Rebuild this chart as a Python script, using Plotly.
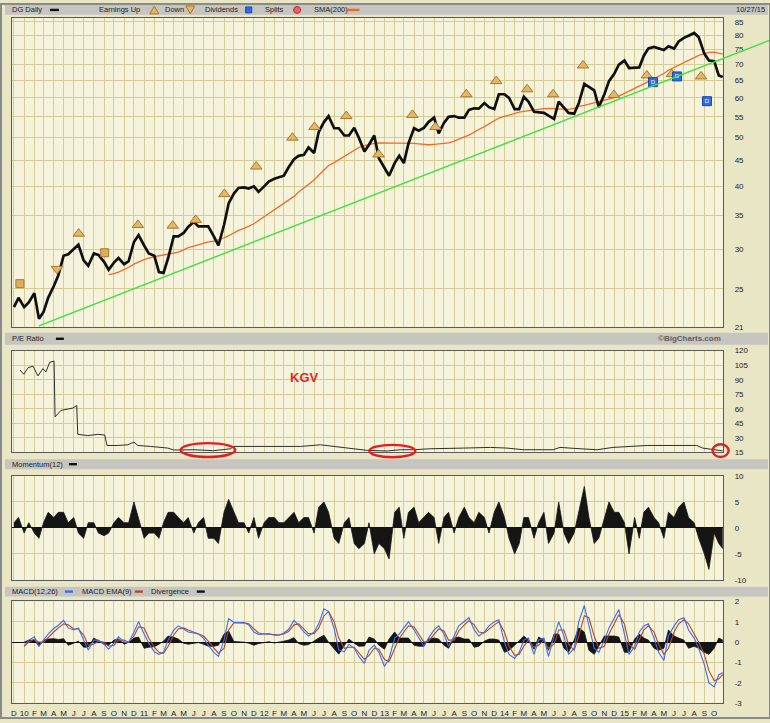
import math
import pandas as pd
import plotly.graph_objects as go

# ------------------------------------------------------------------ data
dates = list(pd.date_range('2009-12-01', '2015-10-15', freq='SMS')) + [pd.Timestamp('2015-10-27')]

price = [23.0, 24.0, 23.0, 23.5, 24.5, 21.8, 22.5, 24.0, 25.3, 26.6,
         29.1, 29.3, 30.0, 30.6, 28.5, 27.8, 29.4, 29.2, 28.3, 27.3,
         28.2, 28.8, 28.0, 28.4, 31.0, 32.0, 30.5, 29.4, 29.1, 27.0,
         26.9, 28.8, 31.8, 31.8, 32.3, 33.2, 34.0, 33.3, 33.3, 33.3,
         31.8, 30.5, 33.5, 37.0, 38.7, 39.7, 39.8, 39.6, 40.0, 39.0,
         40.0, 40.9, 41.4, 41.7, 42.0, 43.6, 45.3, 46.0, 46.2, 47.8,
         46.6, 51.3, 53.7, 55.2, 52.2, 52.2, 50.5, 50.5, 52.3, 50.0,
         46.9, 48.4, 50.5, 45.5, 43.4, 42.0, 44.5, 46.0, 44.5, 48.7,
         52.2, 51.6, 52.3, 53.7, 54.8, 51.0, 53.5, 55.0, 55.2, 54.8,
         54.8, 56.8, 57.2, 57.1, 58.6, 57.5, 57.0, 61.0, 61.0, 60.0,
         57.0, 57.0, 60.3, 59.0, 56.3, 56.2, 56.0, 55.3, 54.5, 59.0,
         57.3, 56.0, 55.8, 58.5, 64.0, 63.1, 62.1, 57.5, 61.0, 64.8,
         67.0, 69.9, 71.2, 68.8, 68.9, 69.0, 72.8, 75.3, 75.8, 75.4,
         74.7, 76.0, 75.2, 77.7, 79.0, 79.8, 80.8, 79.2, 73.5, 71.2,
         71.0, 66.5, 66.0]

sma200 = [None] * 19 + [26.7,
          26.8, 27.0, 27.3, 27.6, 28.0, 28.3, 28.6, 28.8, 29.0, 29.1,
          29.2, 29.3, 29.4, 29.6, 29.9, 30.2, 30.4, 30.6, 30.8, 31.0,
          31.1, 31.3, 31.6, 31.9, 32.3, 32.7, 33.0, 33.3, 33.7, 34.2,
          34.8, 35.3, 35.9, 36.4, 37.0, 37.5, 38.2, 39.0, 39.7, 40.4,
          41.2, 42.1, 43.0, 44.0, 44.6, 45.2, 45.9, 46.6, 47.3, 47.8,
          48.2, 48.5, 48.7, 48.8, 48.8, 48.8, 48.8, 48.8, 48.8, 48.8,
          48.7, 48.6, 48.5, 48.4, 48.5, 48.6, 48.7, 48.8, 49.2, 49.7,
          50.2, 50.6, 51.2, 51.9, 52.6, 53.3, 54.0, 54.7, 55.1, 55.5,
          55.9, 56.2, 56.4, 56.6, 56.8, 57.0, 57.1, 57.2, 57.1, 57.0,
          56.9, 56.9, 57.2, 57.7, 58.0, 58.3, 58.6, 58.9, 59.3, 59.7,
          60.1, 60.5, 61.2, 61.9, 62.6, 63.3, 64.0, 64.7, 65.5, 66.3,
          67.1, 68.1, 69.0, 69.8, 70.6, 71.4, 72.2, 72.9, 73.5, 73.9,
          74.0, 73.6, 73.3]

momentum = [1, 2, -1, 1, -1, -2, 1, 3, 2, 3,
            3, 1, 2, -1, -2, 1, 1, -1, -1.5, -1,
            1, 2, 1, 1, 5, 2, -2, -1, -1, -2,
            1, 3, 3, 2, 1, 2, -1, 1, 2, -2,
            -2, -3, 3, 5.5, 3, 1, 1, -1, 2, -2,
            1, 2, 2, 1, 1, 2, 3, 1, 2, 2,
            -1, 4, 5, 3, -2, -3, 1, 2, -3, -4,
            -3, 1, -5, -3, -4, -6, 3, 4, -2, 3,
            4, 1, 2, 3, 2, -3, 2, 3, -1, 2,
            4, 2, 1, 3, 2, -1, 3, 5, 2, -2,
            -5, -3, 2, 2, -2, 1, 3, -3, -1, 5,
            -1, -3, -1, 3, 8, 2, -3, -2, 2, 5,
            3, 3, 1, -5, 2, -2, 3, 4, 2, 1,
            -2, 3, 2, 4, 5, 2, 1, -2, -5, -8,
            -1, -3, -4]

macd = [None, None, -0.2, 0.1, 0.26, -0.2, 0.1, 0.4, 0.67, 0.83,
        1.07, 0.7, 0.6, 0.7, 0.1, -0.39, 0.1, 0.1, -0.1, -0.35,
        -0.05, 0.26, 0.0, 0.0, 0.5, 1.0, 0.4, -0.05, -0.47, -0.6,
        -0.5, 0.1, 0.59, 0.8, 0.65, 0.5, 0.45, 0.4, 0.2, -0.15,
        -0.5, -0.7, 0.1, 1.15, 0.98, 0.98, 0.95, 0.85, 0.5, 0.38,
        0.4, 0.42, 0.34, 0.34, 0.45, 0.62, 1.07, 0.83, 0.5, 0.3,
        0.5, 0.9, 1.64, 1.5, 0.67, -0.39, -0.47, -0.1, -0.3, -0.7,
        -1.04, -0.4, -0.15, -0.5, -1.2, -0.8, 0.2, 0.4, 0.7, 1.0,
        0.6, 0.2, -0.2, 0.2, 0.6, 0.8, 0.4, -0.2, 0.3, 0.8,
        1.0, 1.2, 0.6, 0.3, 0.5, 0.8, 1.0, 1.1, 0.0, -0.6,
        -0.8, -0.5, 0.1, 0.2, -0.6, 0.1, 0.2, -0.7, 0.3, 1.0,
        0.3, -0.6, -0.3, 1.0, 1.8, 0.8, -0.3, -0.5, 0.1, 0.7,
        1.2, 1.6, 0.4, -0.6, -0.2, 0.5, 0.8, 0.9, 0.2, -0.5,
        -0.9, 0.3, 0.8, 1.1, 1.2, 0.6, 0.2, -0.3, -1.1, -2.0,
        -2.2, -1.6, -1.5]

macd_ema9 = [None, None, -0.2, 0.0, 0.15, 0.0, 0.0, 0.25, 0.5, 0.7,
             0.9, 0.85, 0.65, 0.65, 0.35, -0.15, -0.1, 0.05, 0.0, -0.2,
             -0.15, 0.1, 0.1, 0.0, 0.3, 0.75, 0.7, 0.2, -0.25, -0.5,
             -0.55, -0.2, 0.35, 0.65, 0.7, 0.6, 0.5, 0.42, 0.3, 0.05,
             -0.3, -0.55, -0.3, 0.6, 0.95, 0.95, 0.95, 0.9, 0.65, 0.45,
             0.4, 0.4, 0.38, 0.35, 0.4, 0.52, 0.85, 0.9, 0.65, 0.42,
             0.42, 0.7, 1.3, 1.5, 1.0, 0.2, -0.3, -0.25, -0.25, -0.5,
             -0.85, -0.65, -0.3, -0.35, -0.85, -0.95, -0.3, 0.2, 0.5, 0.8,
             0.75, 0.4, 0.0, 0.05, 0.4, 0.65, 0.55, 0.1, 0.1, 0.55,
             0.85, 1.05, 0.85, 0.5, 0.45, 0.65, 0.85, 1.0, 0.5, -0.2,
             -0.65, -0.6, -0.2, 0.1, -0.25, -0.15, 0.1, -0.3, -0.1, 0.6,
             0.6, -0.1, -0.4, 0.3, 1.3, 1.2, 0.3, -0.3, -0.2, 0.4,
             0.9, 1.35, 0.9, -0.1, -0.35, 0.1, 0.6, 0.8, 0.5, -0.1,
             -0.6, -0.3, 0.5, 0.9, 1.1, 0.9, 0.4, 0.0, -0.6, -1.4,
             -1.9, -1.8, -1.6]

divergence = [None, None, 0.0, 0.1, 0.1, -0.2, 0.1, 0.15, 0.17, 0.13,
              0.17, -0.15, -0.05, 0.05, -0.25, -0.24, 0.2, 0.05, -0.1, -0.15,
              0.1, 0.16, -0.1, 0.0, 0.2, 0.25, -0.3, -0.25, -0.22, -0.1,
              0.05, 0.3, 0.24, 0.15, -0.05, -0.1, -0.05, -0.02, -0.1, -0.2,
              -0.2, -0.15, 0.4, 0.55, 0.03, 0.03, 0.0, -0.05, -0.15, -0.07,
              0.0, 0.02, -0.04, -0.01, 0.05, 0.1, 0.22, -0.07, -0.15, -0.12,
              0.08, 0.2, 0.34, 0.0, -0.33, -0.59, -0.17, 0.15, -0.05, -0.2,
              -0.19, 0.25, 0.15, -0.15, -0.35, 0.15, 0.5, 0.2, 0.2, 0.2,
              -0.15, -0.2, -0.2, 0.15, 0.2, 0.15, -0.15, -0.3, 0.2, 0.25,
              0.15, 0.15, -0.25, -0.2, 0.05, 0.15, 0.15, 0.1, -0.5, -0.4,
              -0.15, 0.1, 0.3, 0.1, -0.35, 0.25, 0.1, -0.4, 0.4, 0.4,
              -0.3, -0.5, 0.1, 0.7, 0.5, -0.4, -0.6, -0.2, 0.3, 0.3,
              0.3, 0.25, -0.5, -0.5, 0.15, 0.4, 0.2, 0.1, -0.3, -0.4,
              -0.3, 0.6, 0.3, 0.2, 0.1, -0.3, -0.2, -0.3, -0.5, -0.6,
              -0.3, 0.2, 0.1]

pe_dates = ['2009-12-19', '2009-12-31', '2010-01-13', '2010-01-28', '2010-02-12', '2010-02-27',
            '2010-03-08', '2010-03-20', '2010-04-02', '2010-04-05', '2010-04-23', '2010-05-14',
            '2010-05-29', '2010-06-10', '2010-06-13', '2010-07-14', '2010-08-13', '2010-09-03',
            '2010-09-10', '2010-10-13', '2010-11-12', '2010-12-01', '2010-12-13', '2011-01-21',
            '2011-03-14', '2011-04-01', '2011-06-01', '2011-07-31', '2011-09-21', '2011-09-30',
            '2012-01-11', '2012-04-21', '2012-06-20', '2012-07-30', '2012-09-20', '2012-11-10',
            '2013-01-10', '2013-02-18', '2013-03-30', '2013-05-20', '2013-08-29', '2013-11-19',
            '2014-01-09', '2014-02-27', '2014-05-29', '2014-06-19', '2014-08-19', '2014-10-10',
            '2014-11-27', '2015-01-18', '2015-03-11', '2015-06-19', '2015-08-09', '2015-08-27',
            '2015-09-27', '2015-10-18', '2015-10-27']
pe_values = [100.0, 95.6, 102.4, 104.0, 93.9, 101.4, 98.0, 108.1, 109.1, 51.6, 58.3, 60.0,
             60.7, 63.4, 33.6, 32.3, 33.6, 32.9, 22.1, 22.1, 22.8, 25.5, 22.1, 21.1,
             19.4, 17.4, 17.7, 16.7, 18.7, 21.1, 21.1, 21.1, 22.8, 21.1, 18.7, 17.0,
             16.4, 17.7, 17.7, 18.7, 19.4, 20.1, 19.4, 17.7, 17.7, 20.1, 18.7, 17.7,
             20.1, 21.1, 22.1, 22.1, 22.1, 19.4, 17.7, 16.7, 16.5]

earn_up_dates = ['2010-06-16', '2010-12-13', '2011-03-29', '2011-06-07', '2011-09-02', '2011-12-08',
                 '2012-03-27', '2012-06-02', '2012-09-07', '2012-12-14', '2013-03-27', '2013-06-05',
                 '2013-09-07', '2013-12-07', '2014-03-11', '2014-05-29', '2014-08-28', '2014-11-30',
                 '2015-03-10', '2015-05-25', '2015-08-22']
earn_up_values = [32.2, 33.5, 33.4, 34.3, 38.6, 43.8, 50.0, 52.5, 55.2, 46.3, 55.5, 52.5,
                  61.0, 64.8, 62.4, 61.0, 69.6, 60.8, 66.5, 66.9, 66.2]
earn_down_dates = ['2010-04-11']
earn_down_values = [27.4]
earn_flat_dates = ['2009-12-19', '2010-09-03']
earn_flat_values = [25.6, 29.5]
div_dates = ['2015-03-29', '2015-06-10', '2015-09-09']
div_values = [64.5, 66.2, 59.1]

price_ticks = [21, 25, 30, 35, 40, 45, 50, 55, 60, 65, 70, 75, 80, 85]
pe_ticks = [15, 30, 45, 60, 75, 90, 105, 120]
mom_ticks = [-10, -5, 0, 5, 10]
macd_ticks = [-3, -2, -1, 0, 1, 2]

trend_points = [('2010-02-15', 21.1), ('2015-10-21', 71.6)]
pe_circles = [('2011-04-22', '2011-10-05', 10.2, 24.5),
              ('2012-11-16', '2013-04-05', 10.0, 22.7),
              ('2015-09-26', '2015-11-14', 10.2, 23.4)]
kgv_label = ('2012-05-03', 92.6)

# ------------------------------------------------------------------ layout constants
W, H = 770, 723
X0, X1 = pd.Timestamp('2009-11-25'), pd.Timestamp('2015-10-28')
PRICE_RANGE = (21, 86.4)
PE_RANGE = (15, 120)
PLOT_L, PLOT_R = 11, 723

BG_PAPER = '#E9E6C6'
BG_PLOT = '#F5F3DC'
GRID = '#D4CD98'
FRAME = '#5A5A5A'
FONT = 'Liberation Sans'


def py(p):
    return 1 - p / H


def pxx(p):
    return p / W


XD = [PLOT_L / W, PLOT_R / W]
dom_price = [py(327), py(14.5)]
dom_pe = [py(454), py(351)]
dom_mom = [py(583), py(478)]
dom_macd = [py(708), py(605)]

month_starts = pd.date_range('2009-12-01', '2015-10-01', freq='MS')
letters = {2: 'F', 3: 'M', 4: 'A', 5: 'M', 6: 'J', 7: 'J', 8: 'A', 9: 'S', 10: 'O', 11: 'N', 12: 'D'}
month_text = [f"{d.year % 100:02d}" if d.month == 1 else letters[d.month] for d in month_starts]


def fx(d):
    return (pd.Timestamp(d) - X0) / (X1 - X0)


def fy_log(v):
    lo, hi = math.log10(PRICE_RANGE[0]), math.log10(PRICE_RANGE[1])
    return (math.log10(v) - lo) / (hi - lo)


def fy_pe(v):
    return (v - PE_RANGE[0]) / (PE_RANGE[1] - PE_RANGE[0])


fig = go.Figure()

# price panel
fig.add_trace(go.Scatter(x=dates, y=sma200, mode='lines', line=dict(color='#F06A28', width=1.3),
                         xaxis='x', yaxis='y', connectgaps=False))
fig.add_trace(go.Scatter(x=dates, y=price, mode='lines', line=dict(color='#101010', width=2.7),
                         xaxis='x', yaxis='y'))
fig.add_trace(go.Scatter(x=earn_up_dates, y=earn_up_values, mode='markers', xaxis='x', yaxis='y',
                         marker=dict(symbol='triangle-up', size=10, color='#E4B66A',
                                     line=dict(color='#A8772A', width=1))))
fig.add_trace(go.Scatter(x=earn_down_dates, y=earn_down_values, mode='markers', xaxis='x', yaxis='y',
                         marker=dict(symbol='triangle-down', size=10, color='#E4B66A',
                                     line=dict(color='#A8772A', width=1))))
fig.add_trace(go.Scatter(x=earn_flat_dates, y=earn_flat_values, mode='markers', xaxis='x', yaxis='y',
                         marker=dict(symbol='square', size=8, color='#DDAE62',
                                     line=dict(color='#A8772A', width=1))))
fig.add_trace(go.Scatter(x=div_dates, y=div_values, mode='markers+text', text=['D'] * len(div_dates),
                         textposition='middle center', textfont=dict(size=6, color='white', family=FONT),
                         xaxis='x', yaxis='y',
                         marker=dict(symbol='square', size=9, color='#2E6BE6',
                                     line=dict(color='#1848B0', width=1))))

# P/E panel
fig.add_trace(go.Scatter(x=pe_dates, y=pe_values, mode='lines', line=dict(color='#2E2E2E', width=1),
                         xaxis='x2', yaxis='y2'))

# Momentum panel
fig.add_trace(go.Scatter(x=dates, y=momentum, mode='lines', fill='tozeroy', fillcolor='#151515',
                         line=dict(color='#151515', width=0.8), xaxis='x3', yaxis='y3'))

# MACD panel
fig.add_trace(go.Scatter(x=dates, y=divergence, mode='lines', fill='tozeroy', fillcolor='#151515',
                         line=dict(color='#151515', width=0.8), xaxis='x4', yaxis='y4'))
fig.add_trace(go.Scatter(x=dates, y=macd_ema9, mode='lines', line=dict(color='#B4462C', width=1.1),
                         xaxis='x4', yaxis='y4'))
fig.add_trace(go.Scatter(x=dates, y=macd, mode='lines', line=dict(color='#3B6EEA', width=1.1),
                         xaxis='x4', yaxis='y4'))

tickfont = dict(family=FONT, size=8, color='#222222')


def xax(anchor, labels):
    d = dict(domain=XD, anchor=anchor, type='date', range=[X0, X1],
             tickmode='array', tickvals=list(month_starts), ticktext=month_text,
             showgrid=True, gridcolor=GRID, gridwidth=1,
             showline=True, linecolor=FRAME, linewidth=1, mirror=True,
             ticks='', zeroline=False, showticklabels=labels, tickfont=tickfont,
             ticklabelstandoff=2, fixedrange=True)
    return d


def yax(anchor, dom, rng, ticks, log=False, zero=False):
    d = dict(domain=dom, anchor=anchor, side='right', range=rng,
             tickmode='array', tickvals=ticks, ticktext=[str(t) for t in ticks],
             showgrid=True, gridcolor=GRID, gridwidth=1,
             showline=True, linecolor=FRAME, linewidth=1, mirror=True,
             ticks='', tickfont=tickfont, ticklabelstandoff=9,
             zeroline=zero, zerolinecolor='#111111', zerolinewidth=1.4, fixedrange=True)
    if log:
        d['type'] = 'log'
    return d


fig.update_layout(
    width=W, height=H, margin=dict(l=0, r=0, t=0, b=0),
    paper_bgcolor=BG_PAPER, plot_bgcolor=BG_PLOT, showlegend=False,
    xaxis=xax('y', False),
    xaxis2=dict(xax('y2', False), matches='x'),
    xaxis3=dict(xax('y3', False), matches='x'),
    xaxis4=dict(xax('y4', True), matches='x'),
    yaxis=yax('x', dom_price, [math.log10(PRICE_RANGE[0]), math.log10(PRICE_RANGE[1])], price_ticks, log=True),
    yaxis2=yax('x2', dom_pe, list(PE_RANGE), pe_ticks),
    yaxis3=yax('x3', dom_mom, [-10, 10], mom_ticks, zero=True),
    yaxis4=yax('x4', dom_macd, [-3, 2], macd_ticks, zero=True),
)

shapes = []
annots = []

# header bars
for top, bot in [(0, 11), (333, 345), (461, 471), (590, 600)]:
    shapes.append(dict(type='rect', xref='paper', yref='paper', x0=pxx(4), x1=pxx(768),
                       y0=py(bot), y1=py(top), fillcolor='#C6C5BF', line=dict(width=0), layer='below'))


def legend_text(txt, x, y, color='#222222', bold=False, anchor='left', size=7.5):
    annots.append(dict(xref='paper', yref='paper', x=pxx(x), y=py(y), text=f"<b>{txt}</b>" if bold else txt,
                       showarrow=False, xanchor=anchor, yanchor='middle',
                       font=dict(family=FONT, size=size, color=color)))


def dash(x0, x1, y, color):
    shapes.append(dict(type='rect', xref='paper', yref='paper', x0=pxx(x0), x1=pxx(x1),
                       y0=py(y + 1.2), y1=py(y - 1.2), fillcolor=color, line=dict(width=0)))


def tri(x0, x1, yt, yb, up, fill, edge):
    xm = (x0 + x1) / 2
    if up:
        path = f"M {pxx(x0)},{py(yb)} L {pxx(x1)},{py(yb)} L {pxx(xm)},{py(yt)} Z"
    else:
        path = f"M {pxx(x0)},{py(yt)} L {pxx(x1)},{py(yt)} L {pxx(xm)},{py(yb)} Z"
    shapes.append(dict(type='path', xref='paper', yref='paper', path=path,
                       fillcolor=fill, line=dict(color=edge, width=1)))


legend_text('DG Daily', 9, 6)
dash(49, 58, 6, '#111111')
legend_text('Earnings Up', 96, 6)
tri(149, 158, 2, 10, True, '#E4B66A', '#A8772A')
legend_text('Down', 162, 6)
tri(185, 194, 2, 10, False, '#E4B66A', '#A8772A')
legend_text('Dividends', 202, 6)
shapes.append(dict(type='rect', xref='paper', yref='paper', x0=pxx(245), x1=pxx(251), y0=py(9), y1=py(3),
                   fillcolor='#2E6BE6', line=dict(color='#1848B0', width=1)))
legend_text('Splits', 262, 6)
shapes.append(dict(type='circle', xref='paper', yref='paper', x0=pxx(293), x1=pxx(300), y0=py(9.5), y1=py(2.5),
                   fillcolor='#E86060', line=dict(color='#C03030', width=1)))
legend_text('SMA(200)', 311, 6)
dash(347, 359, 6, '#F06A28')
legend_text('10/27/15', 767, 6, anchor='right')

legend_text('P/E Ratio', 9, 339)
dash(55, 63, 339, '#111111')
legend_text('©BigCharts.com', 723, 339, color='#5E5E5E', bold=True, anchor='right', size=8)

legend_text('Momentum(12)', 9, 466)
dash(68, 76, 466, '#111111')

legend_text('MACD(12,26)', 9, 595)
dash(64, 72, 595, '#3B6EEA')
legend_text('MACD EMA(9)', 79, 595)
dash(134, 142, 595, '#B4462C')
legend_text('Divergence', 148, 595)
dash(196, 204, 595, '#111111')

# green trend line (extends across the label margin to the right edge)
(d0, v0), (d1, v1) = trend_points
fx0, fx1 = fx(d0), fx(d1)
fy0, fy1 = fy_log(v0), fy_log(v1)
fx_end = (W - PLOT_L) / (PLOT_R - PLOT_L)
fy_end = fy0 + (fy1 - fy0) * (fx_end - fx0) / (fx1 - fx0)
shapes.append(dict(type='line', xref='x domain', yref='y domain', x0=fx0, y0=fy0, x1=fx_end, y1=fy_end,
                   line=dict(color='#3BE23B', width=1.4)))

# red hand-drawn ellipses on the P/E panel
for da, db, vlo, vhi in pe_circles:
    shapes.append(dict(type='circle', xref='x2 domain', yref='y2 domain',
                       x0=fx(da), x1=fx(db), y0=fy_pe(vlo), y1=fy_pe(vhi),
                       line=dict(color='#E41E1E', width=2.4)))

annots.append(dict(xref='x2', yref='y2', x=kgv_label[0], y=kgv_label[1], text='<b>KGV</b>', showarrow=False,
                   font=dict(family=FONT, size=13, color='#E5281F')))

# outer frame
shapes.append(dict(type='rect', xref='paper', yref='paper', x0=0, x1=1, y0=0, y1=1,
                   line=dict(color='#8A8A8A', width=2)))

fig.update_layout(shapes=shapes, annotations=annots)
fig.write_html('out.html',
               config={'displayModeBar': False},
               post_script="document.body.style.margin='0';document.body.style.padding='0';"
                           "document.body.style.overflow='hidden';")
